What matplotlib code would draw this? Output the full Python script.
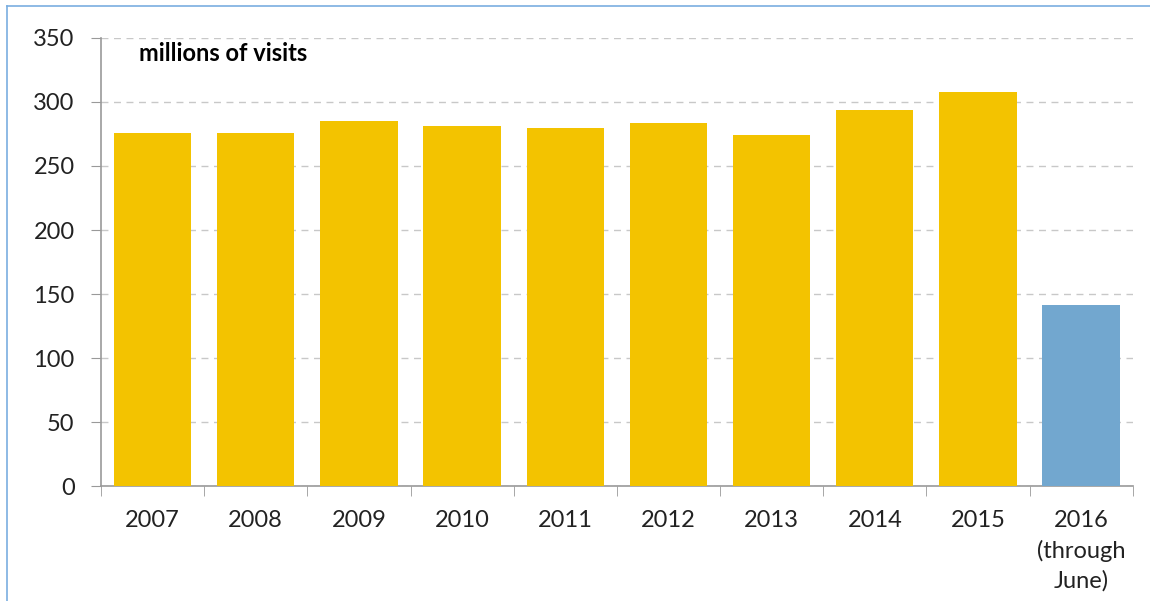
import matplotlib.pyplot as plt
from matplotlib.lines import Line2D
import numpy as np

years = ['2007', '2008', '2009', '2010', '2011', '2012', '2013', '2014', '2015', '2016\n(through\nJune)']
visits = [275.5, 275.5, 285.5, 281.5, 279.5, 283.5, 274.5, 293.5, 307.5, 141.5]
colors = ['#f3c300'] * 9 + ['#72a7cf']

plt.rcParams['font.family'] = ['Lato', 'DejaVu Sans']

fig = plt.figure(figsize=(11.5, 6.01), dpi=100)
ax = fig.add_axes([0.0878, 0.1913, 0.8972, 0.7455])

x = np.arange(len(years))
ax.bar(x, visits, width=0.75, color=colors, zorder=3)

ax.set_xlim(-0.5, len(years) - 0.5)
ax.set_ylim(0, 350)
ax.set_yticks(range(0, 351, 50))
ax.set_xticks(x)
ax.set_xticklabels(years, fontsize=17, color='#222222', linespacing=1.5)
ax.set_xticks(np.arange(-0.5, len(years)), minor=True)
ax.tick_params(axis='x', which='major', length=0, pad=17)
ax.tick_params(axis='x', which='minor', length=7, color='#999999', direction='out')
ax.tick_params(axis='y', length=7, color='#999999', labelsize=17, labelcolor='#222222', pad=12)

ax.grid(axis='y', color='#c8c8c8', linestyle=(0, (5, 4)), linewidth=1, zorder=0)
for s in ['top', 'right']:
    ax.spines[s].set_visible(False)
for s in ['left', 'bottom']:
    ax.spines[s].set_color('#999999')
    ax.spines[s].set_linewidth(1.2)

ax.text(0.037, 0.99, 'millions of visits', transform=ax.transAxes, fontsize=17,
        fontweight='bold', va='top', ha='left', color='black')

# thin blue frame on left and top edges
fig.add_artist(Line2D([7 / 1150, 7 / 1150], [0, 1 - 6 / 601], color='#7aaee0', lw=1.2))
fig.add_artist(Line2D([7 / 1150, 1], [1 - 6 / 601, 1 - 6 / 601], color='#7aaee0', lw=1.2))

fig.savefig('out.png', dpi=100)
